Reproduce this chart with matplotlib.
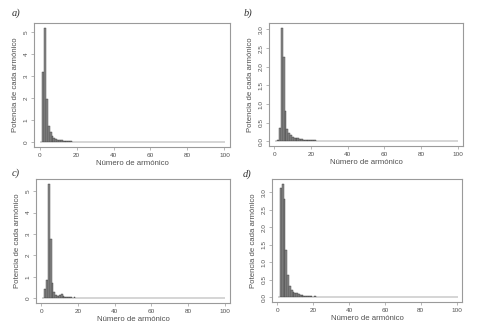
import matplotlib
matplotlib.use("Agg")
import matplotlib.pyplot as plt
import numpy as np

harmonics = list(range(1, 101))

tail_common = [
    0.028, 0.026, 0.024, 0.022, 0.021, 0.019, 0.018, 0.017, 0.016, 0.015,
    0.014, 0.013, 0.013, 0.012, 0.011, 0.011, 0.010, 0.010, 0.009, 0.009,
    0.009, 0.008, 0.008, 0.008, 0.007, 0.007, 0.007, 0.007, 0.006, 0.006,
    0.006, 0.006, 0.006, 0.005, 0.005, 0.005, 0.005, 0.005, 0.005, 0.005,
    0.004, 0.004, 0.004, 0.004, 0.004, 0.004, 0.004, 0.004, 0.004, 0.004,
    0.004, 0.004, 0.004, 0.004, 0.004, 0.003, 0.003, 0.003, 0.003, 0.003,
    0.003, 0.003, 0.003, 0.003, 0.003, 0.003, 0.003, 0.003, 0.003, 0.003,
    0.003, 0.003, 0.003, 0.003, 0.002, 0.002, 0.002, 0.002, 0.002, 0.002,
]

power_a = [0.0, 3.2, 5.2, 1.97, 0.76, 0.48, 0.30, 0.22, 0.17, 0.13,
           0.11, 0.09, 0.08, 0.07, 0.06, 0.05, 0.045, 0.04, 0.035, 0.03] + tail_common
power_b = [0.0, 0.03, 0.35, 3.05, 2.25, 0.82, 0.32, 0.22, 0.16, 0.12,
           0.10, 0.09, 0.08, 0.07, 0.06, 0.05, 0.05, 0.045, 0.04, 0.035] + tail_common
power_c = [0.0, 0.45, 0.85, 5.35, 2.75, 0.70, 0.30, 0.15, 0.12, 0.15,
           0.22, 0.12, 0.08, 0.06, 0.05, 0.05, 0.04, 0.06, 0.04, 0.03] + tail_common
power_d = [0.0, 3.12, 3.25, 2.8, 1.35, 0.64, 0.32, 0.20, 0.15, 0.13,
           0.13, 0.10, 0.08, 0.06, 0.05, 0.04, 0.04, 0.035, 0.03, 0.025] + tail_common

panel_labels = ["a)", "b)", "c)", "d)"]
xticks = [0, 20, 40, 60, 80, 100]
yticks_a = [0, 1, 2, 3, 4, 5]
yticks_b = [0.0, 0.5, 1.0, 1.5, 2.0, 2.5, 3.0]
yticks_c = [0, 1, 2, 3, 4, 5]
yticks_d = [0.0, 0.5, 1.0, 1.5, 2.0, 2.5, 3.0]
ytick_labels_a = ["0", "1", "2", "3", "4", "5"]
ytick_labels_b = ["0.0", "0.5", "1.0", "1.5", "2.0", "2.5", "3.0"]
xlabel = "Número de armónico"
ylabel = "Potencia de cada armónico"

W, H = 479, 329
fig = plt.figure(figsize=(W / 100, H / 100), dpi=100)

txt = "#505050"
edge = "#9a9a9a"

def box(l, t, r, b):
    return [l / W, 1 - b / H, (r - l) / W, (b - t) / H]

panels = [
    (power_a, yticks_a, ytick_labels_a, box(34, 23, 230, 147), (12, 13)),
    (power_b, yticks_b, ytick_labels_b, box(269, 23, 463, 146), (244, 13)),
    (power_c, yticks_c, ytick_labels_a, box(36, 179, 230, 303), (12, 173)),
    (power_d, yticks_d, ytick_labels_b, box(272, 179, 462, 302), (243, 174)),
]

for (vals, yt, ytl, rect, lab_pos), lab in zip(panels, panel_labels):
    ax = fig.add_axes(rect)
    ax.bar(harmonics, vals, width=1.0, color="#8a8a8a", edgecolor="#3a3a3a",
           linewidth=0.3)
    ymax = max(vals)
    ax.set_xlim(-3, 103)
    ax.set_ylim(-0.04 * ymax, 1.04 * ymax)
    ax.set_xticks(xticks)
    ax.set_xticklabels([str(v) for v in xticks], fontsize=4.6, color=txt,
                       family="Liberation Sans")
    ax.set_yticks(yt)
    ax.set_yticklabels(ytl, fontsize=4.6, color=txt, rotation=90, va="center",
                       family="Liberation Sans")
    ax.tick_params(axis="both", length=2, width=0.5, color=edge, pad=2)
    for s in ax.spines.values():
        s.set_color(edge)
        s.set_linewidth(0.8)
    ax.set_xlabel(xlabel, fontsize=5.6, color=txt, family="Liberation Sans", labelpad=2)
    ax.set_ylabel(ylabel, fontsize=5.6, color=txt, family="Liberation Sans", labelpad=3)
    fig.text(lab_pos[0] / W, 1 - lab_pos[1] / H, lab, fontsize=7.5, style="italic",
             family="Liberation Serif", color="#333333", va="center", ha="left")

fig.savefig("out.png", dpi=100, facecolor="white")
